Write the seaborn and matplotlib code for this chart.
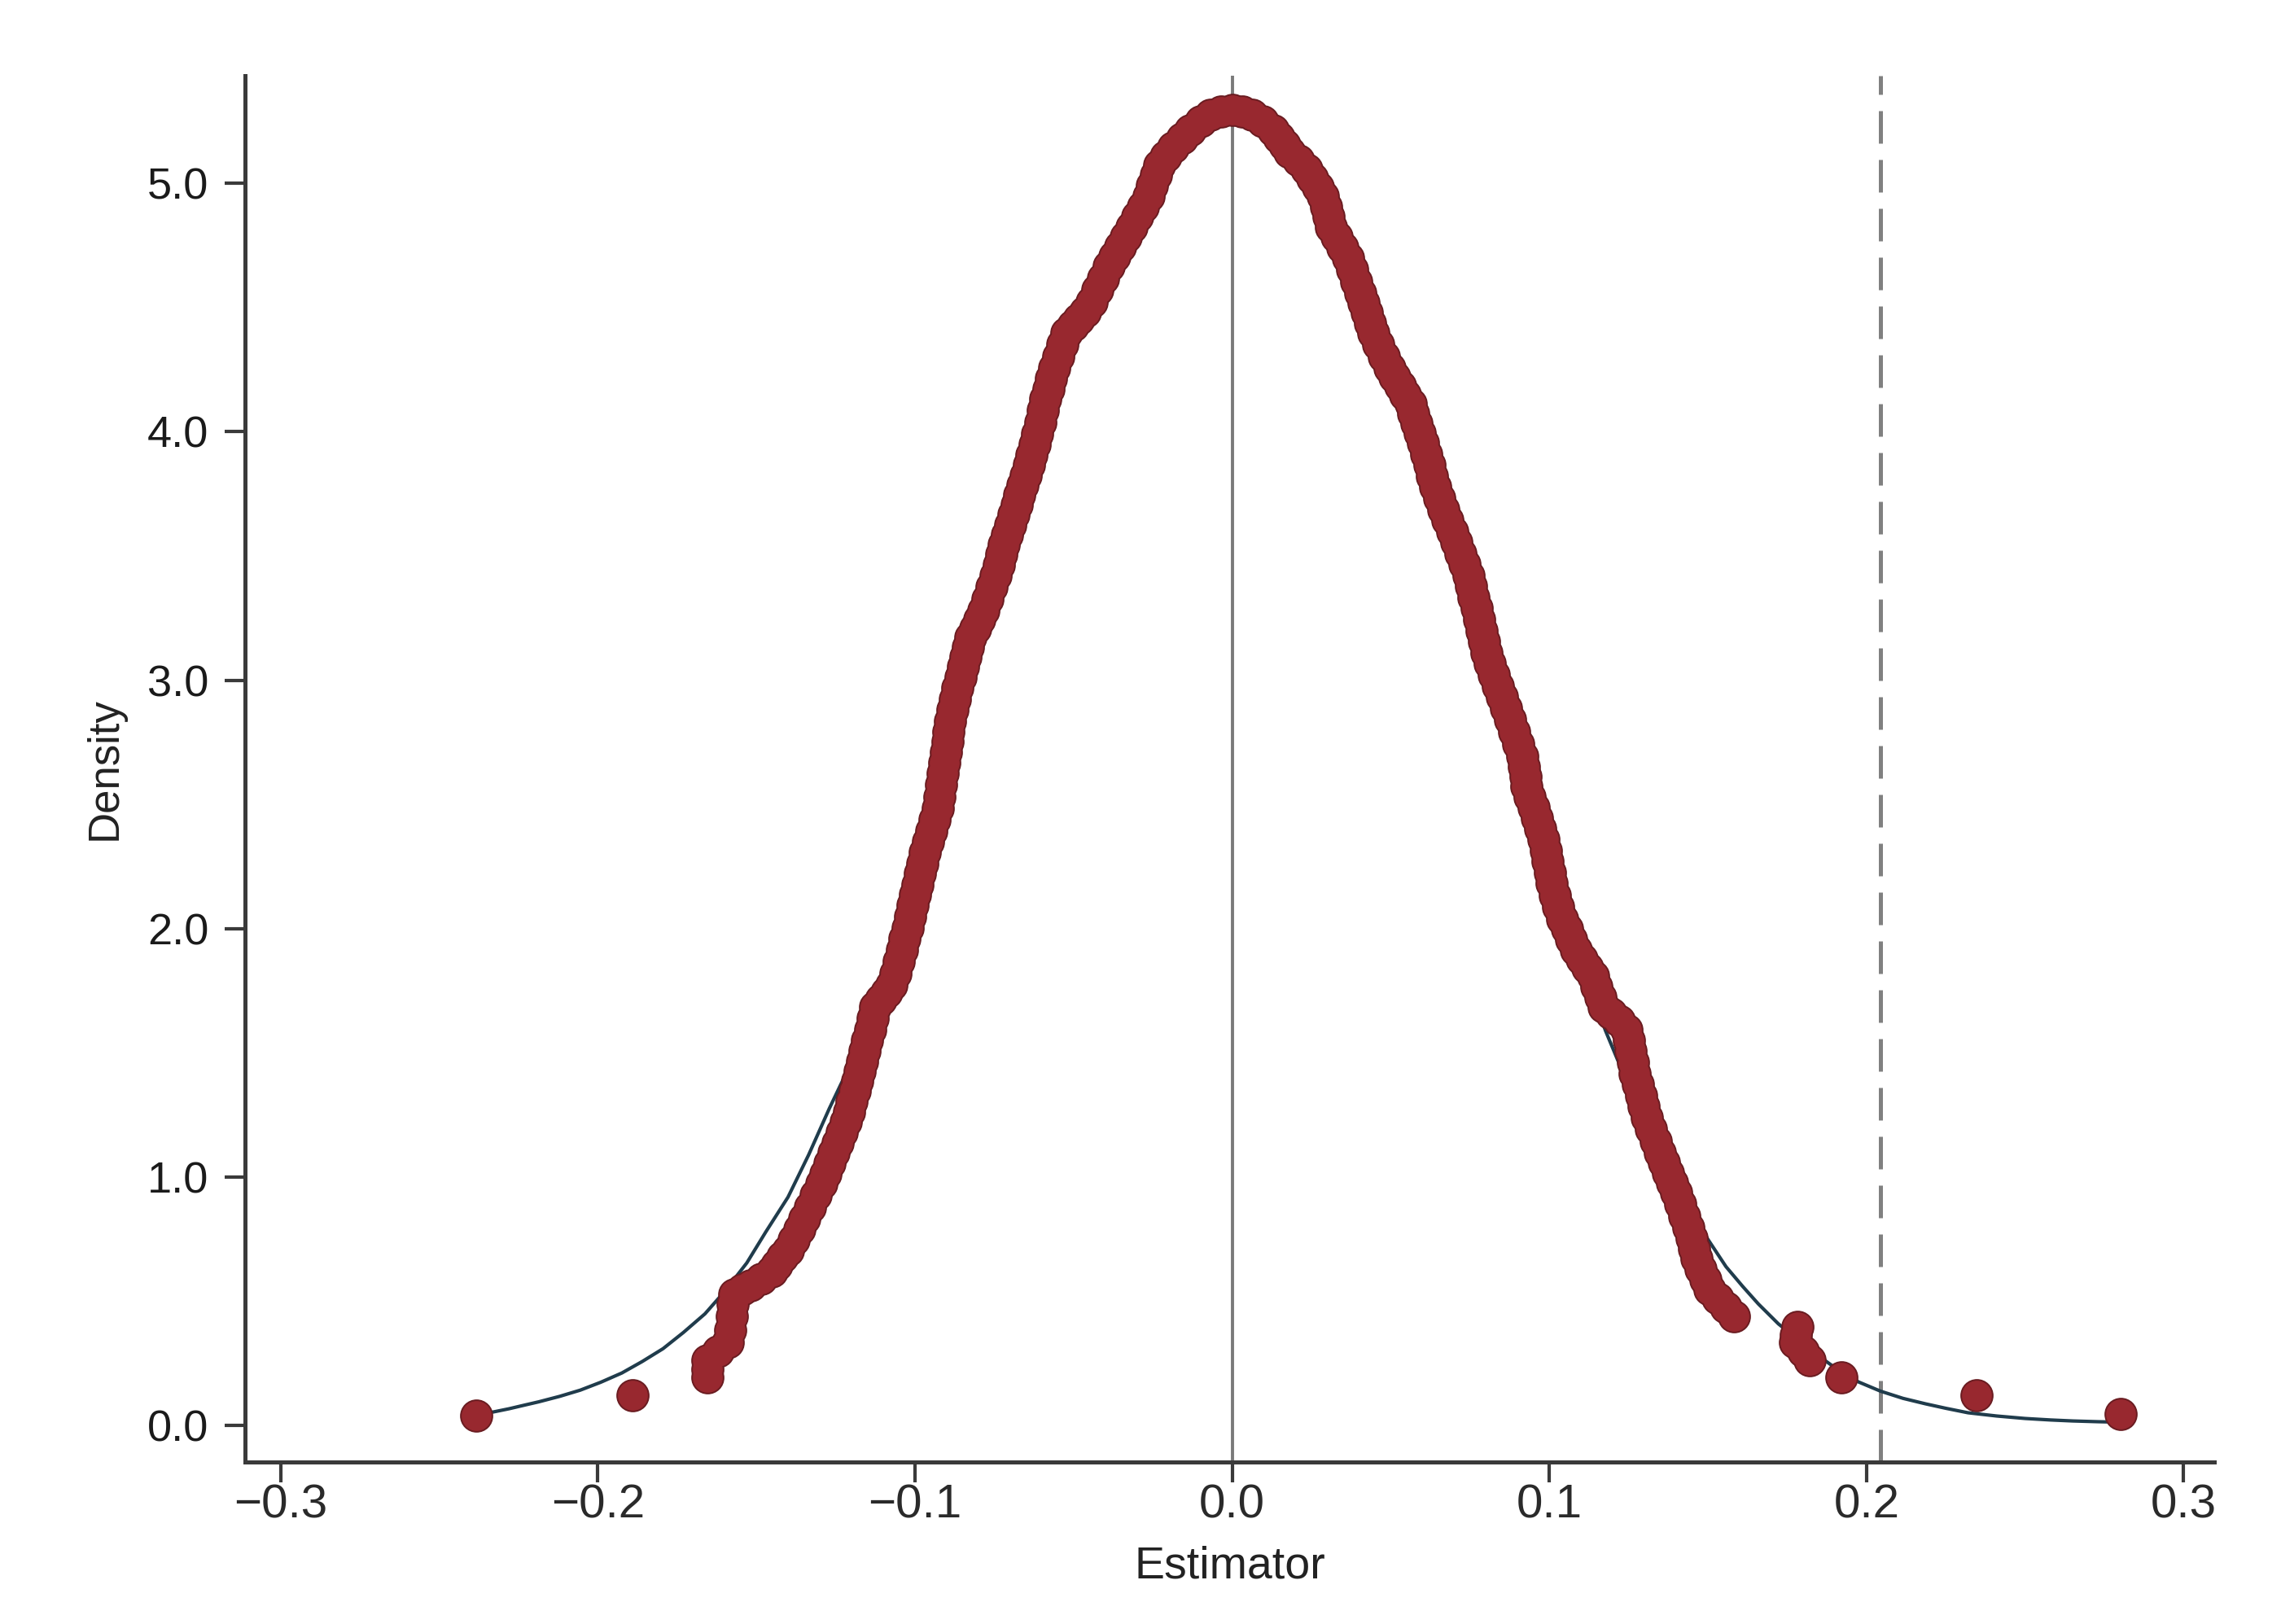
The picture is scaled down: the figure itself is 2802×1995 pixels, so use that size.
import matplotlib
matplotlib.use("Agg")
import matplotlib.pyplot as plt
import pandas as pd
import seaborn as sns

# ------------------------------------------------------------------
# Data: kernel density evaluated at each draw
# ------------------------------------------------------------------
# left flank (rising to the mode)
rise_est = [
    -0.1620, -0.1590, -0.1583, -0.1578, -0.1574, -0.1570, -0.1544, -0.1518,
    -0.1485, -0.1452, -0.1435, -0.1417, -0.1400, -0.1383, -0.1365, -0.1348,
    -0.1330, -0.1313, -0.1295, -0.1282, -0.1269, -0.1256, -0.1243, -0.1230,
    -0.1217, -0.1208, -0.1199, -0.1190, -0.1182, -0.1174, -0.1166, -0.1158,
    -0.1150, -0.1142, -0.1133, -0.1125, -0.1108, -0.1090, -0.1073, -0.1062,
    -0.1051, -0.1040, -0.1032, -0.1024, -0.1015, -0.1007, -0.0999, -0.0991,
    -0.0984, -0.0976, -0.0968, -0.0958, -0.0948, -0.0939, -0.0929, -0.0923,
    -0.0918, -0.0912, -0.0907, -0.0903, -0.0898, -0.0894, -0.0889, -0.0881,
    -0.0873, -0.0865, -0.0857, -0.0849, -0.0841, -0.0832, -0.0824, -0.0811,
    -0.0797, -0.0784, -0.0772, -0.0758, -0.0745, -0.0736, -0.0728, -0.0719,
    -0.0709, -0.0700, -0.0690, -0.0680, -0.0671, -0.0661, -0.0651, -0.0641,
    -0.0632, -0.0623, -0.0614, -0.0605, -0.0597, -0.0588, -0.0579, -0.0571,
    -0.0562, -0.0549, -0.0536, -0.0523, -0.0503, -0.0483, -0.0463, -0.0444,
    -0.0426, -0.0408, -0.0390, -0.0371, -0.0353, -0.0335, -0.0316, -0.0298,
    -0.0281, -0.0263, -0.0252, -0.0241, -0.0230, -0.0208, -0.0185, -0.0158,
    -0.0132, -0.0100, -0.0067, -0.0034,
]
rise_dens = [
    0.300, 0.335, 0.385, 0.441, 0.488, 0.530, 0.548, 0.566,
    0.592, 0.619, 0.648, 0.678, 0.707, 0.749, 0.790, 0.832,
    0.879, 0.927, 0.974, 1.015, 1.057, 1.098, 1.139, 1.181,
    1.222, 1.264, 1.305, 1.347, 1.387, 1.427, 1.467, 1.507,
    1.551, 1.595, 1.640, 1.684, 1.713, 1.743, 1.773, 1.820,
    1.868, 1.915, 1.960, 2.004, 2.049, 2.093, 2.136, 2.178,
    2.221, 2.263, 2.306, 2.350, 2.394, 2.439, 2.483, 2.531,
    2.578, 2.626, 2.668, 2.710, 2.752, 2.793, 2.835, 2.880,
    2.924, 2.969, 3.013, 3.053, 3.093, 3.133, 3.173, 3.208,
    3.244, 3.279, 3.327, 3.374, 3.422, 3.463, 3.505, 3.546,
    3.586, 3.626, 3.666, 3.706, 3.746, 3.786, 3.826, 3.866,
    3.907, 3.949, 3.990, 4.037, 4.085, 4.132, 4.173, 4.215,
    4.256, 4.303, 4.351, 4.398, 4.428, 4.452, 4.484, 4.523,
    4.570, 4.618, 4.665, 4.705, 4.745, 4.784, 4.824, 4.866,
    4.907, 4.949, 4.990, 5.032, 5.073, 5.110, 5.144, 5.182,
    5.215, 5.249, 5.277, 5.290,
]

# right flank (falling from the mode)
fall_est = [
    0.0000, 0.0032, 0.0064, 0.0097, 0.0129, 0.0147, 0.0165, 0.0182,
    0.0208, 0.0234, 0.0252, 0.0270, 0.0287, 0.0296, 0.0305, 0.0313,
    0.0330, 0.0348, 0.0365, 0.0378, 0.0392, 0.0405, 0.0415, 0.0425,
    0.0434, 0.0444, 0.0461, 0.0479, 0.0496, 0.0512, 0.0529, 0.0545,
    0.0562, 0.0572, 0.0582, 0.0591, 0.0601, 0.0611, 0.0621, 0.0630,
    0.0640, 0.0653, 0.0666, 0.0680, 0.0693, 0.0706, 0.0719, 0.0732,
    0.0745, 0.0753, 0.0761, 0.0770, 0.0778, 0.0786, 0.0794, 0.0803,
    0.0811, 0.0824, 0.0837, 0.0850, 0.0863, 0.0876, 0.0889, 0.0902,
    0.0915, 0.0919, 0.0924, 0.0928, 0.0939, 0.0950, 0.0960, 0.0971,
    0.0981, 0.0988, 0.0994, 0.1001, 0.1007, 0.1018, 0.1029, 0.1040,
    0.1055, 0.1070, 0.1085, 0.1103, 0.1120, 0.1138, 0.1149, 0.1160,
    0.1171, 0.1195, 0.1220, 0.1243, 0.1250, 0.1256, 0.1263, 0.1269,
    0.1279, 0.1289, 0.1298, 0.1308, 0.1321, 0.1335, 0.1348, 0.1361,
    0.1374, 0.1387, 0.1400, 0.1413, 0.1426, 0.1439, 0.1448, 0.1456,
    0.1465, 0.1478, 0.1492, 0.1505, 0.1531, 0.1557, 0.1583,
]
fall_dens = [
    5.295, 5.290, 5.277, 5.249, 5.215, 5.185, 5.156, 5.126,
    5.092, 5.055, 5.020, 4.985, 4.949, 4.907, 4.866, 4.824,
    4.783, 4.741, 4.700, 4.653, 4.605, 4.558, 4.518, 4.478,
    4.438, 4.398, 4.351, 4.303, 4.256, 4.220, 4.185, 4.150,
    4.114, 4.074, 4.034, 3.995, 3.955, 3.911, 3.866, 3.822,
    3.777, 3.733, 3.688, 3.644, 3.599, 3.555, 3.510, 3.466,
    3.422, 3.378, 3.333, 3.289, 3.244, 3.200, 3.155, 3.111,
    3.066, 3.022, 2.977, 2.933, 2.889, 2.840, 2.791, 2.742,
    2.693, 2.653, 2.612, 2.572, 2.529, 2.487, 2.444, 2.402,
    2.359, 2.315, 2.271, 2.226, 2.182, 2.134, 2.087, 2.039,
    1.998, 1.956, 1.915, 1.880, 1.844, 1.809, 1.767, 1.726,
    1.684, 1.660, 1.630, 1.595, 1.551, 1.507, 1.462, 1.418,
    1.374, 1.329, 1.285, 1.240, 1.193, 1.145, 1.098, 1.058,
    1.018, 0.978, 0.938, 0.891, 0.843, 0.796, 0.755, 0.713,
    0.672, 0.631, 0.589, 0.548, 0.512, 0.476, 0.441,
]

# isolated draws in both tails
tail_est = [-0.2382, -0.1891, -0.1655, -0.1653, -0.1655,
            0.1783, 0.1777, 0.1775, 0.1800, 0.1822, 0.1922, 0.2348, 0.2801]
tail_dens = [0.042, 0.122, 0.193, 0.228, 0.263,
             0.397, 0.365, 0.335, 0.298, 0.263, 0.193, 0.122, 0.047]

# normal reference density
norm_est = [-0.2382, -0.2330, -0.2280, -0.2230, -0.2186, -0.2120, -0.2055, -0.1990,
            -0.1924, -0.1860, -0.1794, -0.1730, -0.1662, -0.1600, -0.1530, -0.1470,
            -0.1400, -0.1335, -0.1270, -0.1217, -0.1100, -0.1040, -0.0968, -0.0889,
            -0.0824, -0.0745, -0.0680, -0.0614, -0.0562, -0.0483, -0.0390, -0.0316,
            -0.0230, -0.0132, 0.0000, 0.0129, 0.0234, 0.0313, 0.0405, 0.0496,
            0.0601, 0.0693, 0.0778, 0.0863, 0.0928, 0.1007, 0.1085, 0.1177,
            0.1216, 0.1300, 0.1400, 0.1500, 0.1557, 0.1610, 0.1659, 0.1722,
            0.1790, 0.1850, 0.1915, 0.1975, 0.2044, 0.2115, 0.2186, 0.2250,
            0.2320, 0.2410, 0.2500, 0.2580, 0.2650, 0.2730, 0.2801]
norm_dens = [0.042, 0.055, 0.068, 0.083, 0.096, 0.118, 0.143, 0.175,
             0.212, 0.258, 0.310, 0.375, 0.450, 0.540, 0.655, 0.780,
             0.920, 1.090, 1.276, 1.418, 1.740, 1.915, 2.306, 2.835,
             3.173, 3.422, 3.706, 3.990, 4.256, 4.452, 4.665, 4.824,
             5.073, 5.215, 5.295, 5.215, 5.055, 4.824, 4.558, 4.256,
             3.955, 3.599, 3.244, 2.889, 2.572, 2.182, 1.910, 1.590,
             1.470, 1.240, 0.970, 0.750, 0.640, 0.560, 0.490, 0.410,
             0.340, 0.280, 0.220, 0.176, 0.139, 0.110, 0.088, 0.070,
             0.052, 0.039, 0.029, 0.023, 0.019, 0.016, 0.014]

true_value = 0.0
observed = 0.2045

x_ticks = [-0.3, -0.2, -0.1, 0.0, 0.1, 0.2, 0.3]
x_labels = ["\u22120.3", "\u22120.2", "\u22120.1", "0.0", "0.1", "0.2", "0.3"]
y_ticks = [0, 1, 2, 3, 4, 5]
y_labels = ["0.0", "1.0", "2.0", "3.0", "4.0", "5.0"]

dots = pd.DataFrame({
    "est": rise_est + fall_est + tail_est,
    "dens": rise_dens + fall_dens + tail_dens,
})

# ------------------------------------------------------------------
# Plot
# ------------------------------------------------------------------
sns.set_style("ticks")
plt.rcParams["font.family"] = ["Liberation Sans", "DejaVu Sans"]

SPINE = "#3a3a3a"
DOT = "#98282f"
DOT_EDGE = "#6a1c21"

fig, ax = plt.subplots(figsize=(14.01, 9.975), dpi=200)
fig.subplots_adjust(left=0.1074, right=0.9707, bottom=0.0997, top=0.9534)

ax.axvline(true_value, color="#7a7a7a", linewidth=1.4, zorder=1)
ax.axvline(observed, color="#808080", linewidth=1.8, dashes=(8, 4), zorder=1)

sns.lineplot(x=norm_est, y=norm_dens, color="#203c4c", linewidth=1.5,
             estimator=None, ax=ax, zorder=2)

# dark layer first, then the fill, so only the outer rim of the band is dark
sns.scatterplot(data=dots, x="est", y="dens", s=215, color=DOT_EDGE,
                linewidth=0, ax=ax, zorder=3)
sns.scatterplot(data=dots, x="est", y="dens", s=175, color=DOT,
                linewidth=0, ax=ax, zorder=4)

ax.set_xlim(-0.3112, 0.3096)
ax.set_ylim(-0.1465, 5.433)

ax.set_xticks(x_ticks)
ax.set_xticklabels(x_labels, fontsize=21, color="#2a2a2a")
ax.set_yticks(y_ticks)
ax.set_yticklabels(y_labels, fontsize=19.5, color="#1a1a1a")

ax.tick_params(axis="both", direction="out", length=9, width=1.5, color=SPINE)
ax.tick_params(axis="x", pad=0.5)
ax.tick_params(axis="y", pad=7)

ax.set_xlabel("Estimator", fontsize=20, color="#222222", labelpad=8)
ax.set_ylabel("Density", fontsize=19, color="#222222", labelpad=10)

ax.spines[["top", "right"]].set_visible(False)
for side in ["left", "bottom"]:
    ax.spines[side].set_color(SPINE)
    ax.spines[side].set_linewidth(1.8)

fig.savefig("out.png", dpi=200, facecolor="white")
